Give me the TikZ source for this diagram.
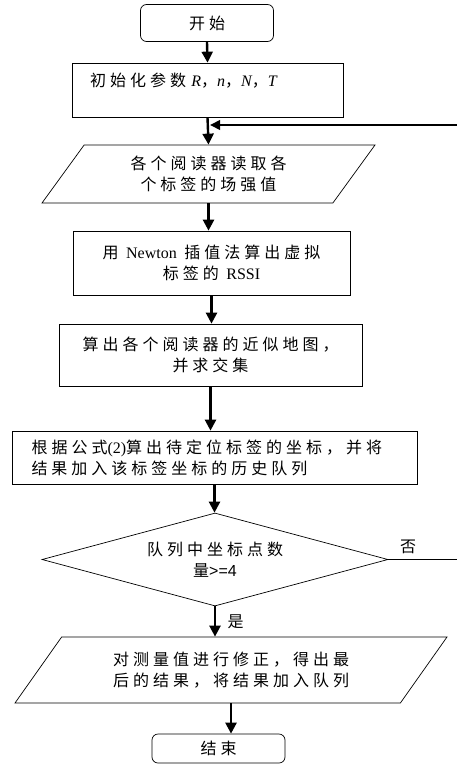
\documentclass[tikz,border=0pt]{standalone}
\usepackage{fontspec}
\setmainfont[LetterSpace=25]{Noto Sans CJK SC}
\newfontfamily\lat{Liberation Serif}
\newfontfamily\arial{Liberation Sans}
\usetikzlibrary{shapes.geometric,arrows.meta}
\newcommand{\pvar}[1]{{\lat\itshape #1}}

\tikzset{
  boxnode/.style={draw, line width=0.7pt, align=center, inner sep=0pt},
  roundnode/.style={boxnode, rounded corners=6pt},
  ionode/.style={boxnode, trapezium, trapezium stretches body},
  testnode/.style={boxnode, diamond, aspect=3.7},
  arr/.style={line width=2.4pt, -{Triangle[width=11pt,length=11pt]}}
}

\begin{document}
\begin{tikzpicture}[x=1pt, y=-1pt, font=\fontsize{16}{21}\selectfont]
        \useasboundingbox (0,0) rectangle (457,773);
        % Draw the steps
        \node[roundnode, minimum width=133, minimum height=37] (start) at (207,23) {开始};
        \node[boxnode, minimum width=271, minimum height=54, text width=235, align=left] (init) at (207.5,90)
            {初始化参数 \pvar{R}，\pvar{n}，\pvar{N}，\pvar{T}\\ \mbox{}};
        \node[ionode, trapezium left angle=40.5, trapezium right angle=139.5,
              minimum width=333, minimum height=58] (read) at (208.5,174)
            {各个阅读器读取各\\个标签的场强值};
        \node[boxnode, minimum width=277, minimum height=64] (newton) at (211.5,263)
            {用 {\lat Newton} 插值法算出虚拟\\标签的 {\lat RSSI}};
        \node[boxnode, minimum width=303, minimum height=62] (map) at (210.5,355)
            {算出各个阅读器的近似地图，\\并求交集};
        \node[boxnode, minimum width=405, minimum height=53, text width=366, align=left] (calc) at (214.5,457.5)
            {根据公式{\lat (2)}算出待定位标签的坐标，并将\\结果加入该标签坐标的历史队列};
        \node[testnode, minimum width=346, minimum height=93] (test) at (215,559.5)
            {队列中坐标点数\\量{\arial >=4}};
        \node[ionode, trapezium left angle=37.8, trapezium right angle=142.2,
              minimum width=432, minimum height=66] (fix) at (231,670)
            {对测量值进行修正，得出最\\后的结果，将结果加入队列};
        \node[roundnode, minimum width=133, minimum height=29] (stop) at (218.5,748.5) {结束};
        % Draw the arrows
        \coordinate (join) at (209,125);
        \draw[arr] (start.south) -- (init.north);
        \draw[arr] (init.south) -- (read.north);
        \draw[arr] (read.south) -- (read.south |- newton.north);
        \draw[arr] (newton.south) -- (newton.south |- map.north);
        \draw[arr] (map.south) -- (map.south |- calc.north);
        \draw[arr] (calc.south) -- (calc.south |- test.north);
        \draw[arr] (test.south) -- (test.south |- fix.north) node[midway, right=8pt] {是};
        \draw[arr] (fix.south) -- (fix.south |- stop.north);
        % Draw the loop back
        \draw[line width=1.3pt, -{Triangle[width=10pt,length=10pt]}, shorten >=1.2pt]
            (test.east) -- node[above=2pt, pos=0.22] {否} ++(90,0) |- (join);
\end{tikzpicture}
\end{document}
